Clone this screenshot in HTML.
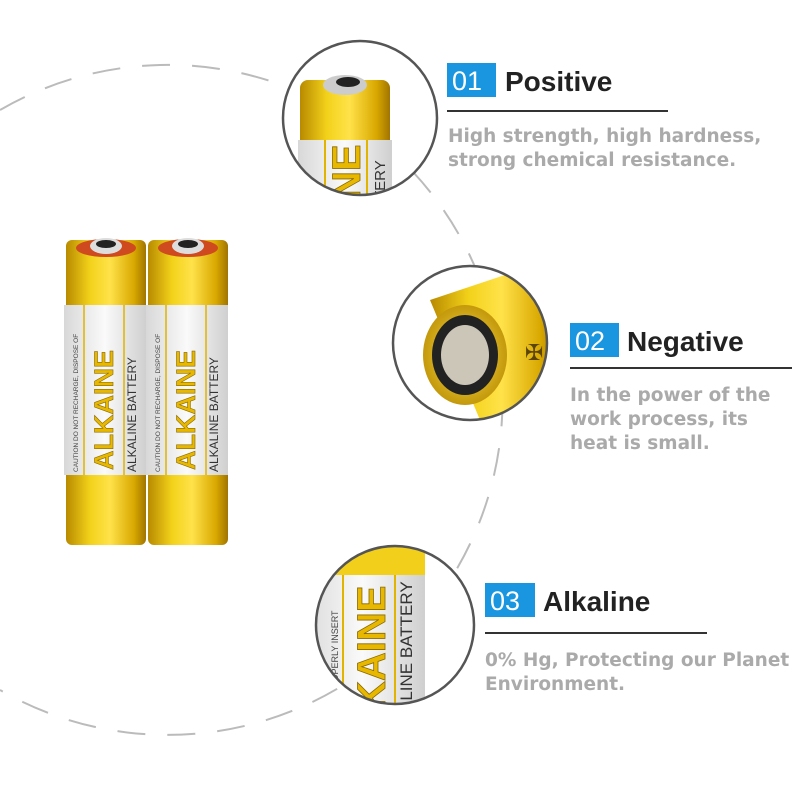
<!DOCTYPE html>
<html><head><meta charset="utf-8"><style>
body{margin:0;background:#fff}
svg{display:block}
.h{font-family:"Liberation Sans",sans-serif;font-weight:bold;font-size:28px;fill:#222}
.n{font-family:"Liberation Sans",sans-serif;font-size:27px;fill:#fff}
.t{font-family:"DejaVu Sans",sans-serif;font-weight:bold;font-size:18.5px;fill:#aaa}
</style></head><body>
<svg width="800" height="800" viewBox="0 0 800 800" xmlns="http://www.w3.org/2000/svg">
<defs>
<linearGradient id="gold" x1="0" x2="1">
<stop offset="0" stop-color="#b88a00"/><stop offset="0.3" stop-color="#f3d21a"/><stop offset="0.55" stop-color="#ffe24a"/><stop offset="0.85" stop-color="#d9a800"/><stop offset="1" stop-color="#a07400"/>
</linearGradient>
<linearGradient id="lab" x1="0" x2="1">
<stop offset="0" stop-color="#d8d8d8"/><stop offset="0.5" stop-color="#fafafa"/><stop offset="1" stop-color="#cfcfcf"/>
</linearGradient>
<radialGradient id="gold2" cx="0.5" cy="0.5" r="0.6">
<stop offset="0" stop-color="#ffe24a"/><stop offset="1" stop-color="#b88a00"/>
</radialGradient>
<clipPath id="c1"><circle cx="360" cy="118" r="77"/></clipPath>
<clipPath id="c2"><circle cx="470" cy="343" r="77"/></clipPath>
<clipPath id="c3"><circle cx="395" cy="625" r="79"/></clipPath>
<g id="bat">
<rect x="0" y="0" width="80" height="305" rx="6" fill="url(#gold)"/>
<rect x="-2" y="65" width="82" height="170" fill="url(#lab)"/>
<line x1="18" y1="65" x2="18" y2="235" stroke="#e0b400" stroke-width="1.5"/>
<line x1="58" y1="65" x2="58" y2="235" stroke="#e0b400" stroke-width="1.5"/>
<ellipse cx="40" cy="8" rx="30" ry="9" fill="#d04a20"/>
<ellipse cx="40" cy="6" rx="16" ry="8" fill="#ddd"/>
<ellipse cx="40" cy="4" rx="10" ry="4" fill="#222"/>
<text transform="translate(47,230) rotate(-90)" font-family="Liberation Sans,sans-serif" font-weight="bold" font-size="27" fill="#e8b800" stroke="#8a6a00" stroke-width="0.6">ALKAINE</text>
<text transform="translate(70,232) rotate(-90)" font-family="Liberation Sans,sans-serif" font-size="12" fill="#333">ALKALINE BATTERY</text>
<text transform="translate(12,232) rotate(-90)" font-family="Liberation Sans,sans-serif" font-size="6.5" fill="#444">CAUTION DO NOT RECHARGE, DISPOSE OF</text>
</g>
</defs>
<path d="M 0 110 A 335 335 0 0 1 160 65 A 335 335 0 1 1 0 690" fill="none" stroke="#bbb" stroke-width="2" stroke-dasharray="28 22"/>
<use href="#bat" x="66" y="240"/>
<use href="#bat" x="148" y="240"/>
<rect x="60" y="545" width="175" height="20" fill="#fff" opacity="0.6"/>
<g clip-path="url(#c1)">
<rect x="280" y="30" width="160" height="180" fill="#fff"/>
<rect x="300" y="80" width="90" height="150" rx="8" fill="url(#gold)"/>
<rect x="298" y="140" width="94" height="90" fill="url(#lab)"/>
<line x1="325" y1="140" x2="325" y2="230" stroke="#e0b400" stroke-width="2"/>
<line x1="367" y1="140" x2="367" y2="230" stroke="#e0b400" stroke-width="2"/>
<ellipse cx="345" cy="85" rx="22" ry="10" fill="#ccc"/>
<ellipse cx="348" cy="82" rx="12" ry="5" fill="#222"/>
<text transform="translate(360,200) rotate(-90)" font-family="Liberation Sans,sans-serif" font-weight="bold" font-size="40" fill="#e8b800" stroke="#8a6a00" stroke-width="0.8">NE</text>
<text transform="translate(385,200) rotate(-90)" font-family="Liberation Sans,sans-serif" font-size="15" fill="#333">TERY</text>
</g>
<circle cx="360" cy="118" r="77" fill="none" stroke="#555" stroke-width="2.5"/>
<g clip-path="url(#c2)">
<rect x="390" y="260" width="160" height="170" fill="#fff"/>
<path d="M430 300 L520 270 L560 300 L560 420 L480 420 Z" fill="url(#gold)"/>
<ellipse cx="465" cy="355" rx="42" ry="50" fill="url(#gold2)"/>
<ellipse cx="465" cy="355" rx="33" ry="40" fill="#222"/>
<ellipse cx="465" cy="355" rx="24" ry="30" fill="#ccc6b8"/>
<text x="525" y="360" font-family="DejaVu Sans,sans-serif" font-size="22" fill="#5a4400">✠</text>
</g>
<circle cx="470" cy="343" r="77" fill="none" stroke="#555" stroke-width="2.5"/>
<g clip-path="url(#c3)">
<rect x="310" y="540" width="170" height="170" fill="#fff"/>
<rect x="300" y="540" width="125" height="180" fill="url(#lab)"/>
<rect x="300" y="540" width="125" height="35" fill="#f2cf1a"/>
<line x1="343" y1="575" x2="343" y2="710" stroke="#e0b400" stroke-width="2"/>
<line x1="395" y1="575" x2="395" y2="710" stroke="#e0b400" stroke-width="2"/>
<text transform="translate(385,710) rotate(-90)" font-family="Liberation Sans,sans-serif" font-weight="bold" font-size="40" fill="#e8b800" stroke="#8a6a00" stroke-width="0.8">KAINE</text>
<text transform="translate(412,712) rotate(-90)" font-family="Liberation Sans,sans-serif" font-size="17" fill="#333">ALINE BATTERY</text>
<text transform="translate(338,712) rotate(-90)" font-family="Liberation Sans,sans-serif" font-size="9" fill="#444">A IMPROPERLY INSERT</text>
</g>
<circle cx="395" cy="625" r="79" fill="none" stroke="#555" stroke-width="2.5"/>
<rect x="447" y="63" width="49" height="34" fill="#1a95e0"/>
<text class="n" x="452" y="90">01</text>
<text class="h" x="505" y="91">Positive</text>
<line x1="447" y1="111" x2="668" y2="111" stroke="#333" stroke-width="2"/>
<text class="t" x="448" y="142">High strength, high hardness,</text>
<text class="t" x="448" y="166">strong chemical resistance.</text>
<rect x="570" y="323" width="49" height="34" fill="#1a95e0"/>
<text class="n" x="575" y="350">02</text>
<text class="h" x="627" y="351">Negative</text>
<line x1="570" y1="368" x2="792" y2="368" stroke="#333" stroke-width="2"/>
<text class="t" x="570" y="401">In the power of the</text>
<text class="t" x="570" y="425">work process, its</text>
<text class="t" x="570" y="449">heat is small.</text>
<rect x="485" y="583" width="50" height="34" fill="#1a95e0"/>
<text class="n" x="490" y="610">03</text>
<text class="h" x="543" y="611">Alkaline</text>
<line x1="485" y1="633" x2="707" y2="633" stroke="#333" stroke-width="2"/>
<text class="t" x="485" y="666">0% Hg, Protecting our Planet</text>
<text class="t" x="485" y="690">Environment.</text>
</svg>
</body></html>
